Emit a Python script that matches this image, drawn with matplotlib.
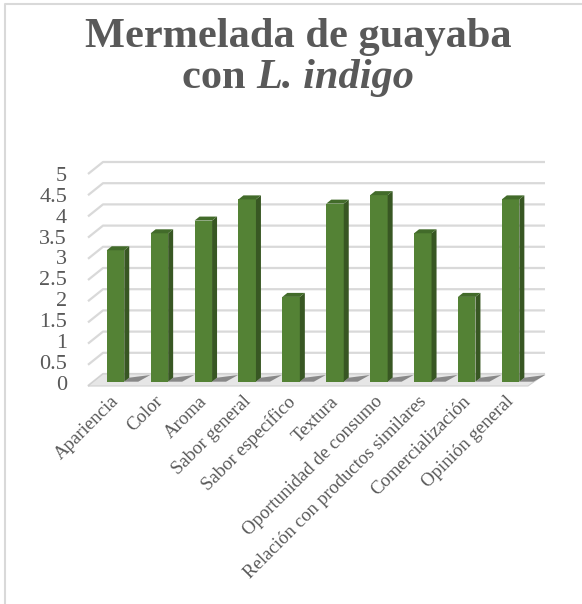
import matplotlib
matplotlib.use("Agg")
import matplotlib.pyplot as plt
from matplotlib.patches import Polygon

categories = ["Apariencia", "Color", "Aroma", "Sabor general", "Sabor específico",
              "Textura", "Oportunidad de consumo", "Relación con productos similares",
              "Comercialización", "Opinión general"]
values = [3.1, 3.5, 3.8, 4.3, 2.0, 4.2, 4.4, 3.5, 2.0, 4.3]
yticks = [0, 0.5, 1, 1.5, 2, 2.5, 3, 3.5, 4, 4.5, 5]
ytick_labels = ["0", "0.5", "1", "1.5", "2", "2.5", "3", "3.5", "4", "4.5", "5"]

W, H = 582, 604
fig = plt.figure(figsize=(W / 100, H / 100), dpi=100)
fig.patch.set_facecolor("white")

# axes laid out in pixel space: x = bar index, y = value
px_x0, px_x1, px_y0, px_y1 = 80, 560, 150, 400
ax = fig.add_axes([px_x0 / W, 1 - px_y1 / H, (px_x1 - px_x0) / W, (px_y1 - px_y0) / H])
ax.set_facecolor("none")
ax.axis("off")

x_step = 43.9           # px per category
y_step = 42.4           # px per unit
front_px = 381.7        # pixel y of bar bottoms
x_first = 115.5         # pixel x of first bar center
ax.set_xlim((px_x0 - x_first) / x_step, (px_x1 - x_first) / x_step)
ax.set_ylim((front_px - px_y1) / y_step, (front_px - px_y0) / y_step)

def dx(p):
    return p / x_step

def dy(p):
    return p / y_step

grid_c = "#d9d9d9"
text_c = "#595959"
serif = ["Liberation Serif", "DejaVu Serif"]

# floor and back-wall gridlines
floor_front = dy(-4.3)
floor_back = dy(7.7)
left_front = dx(88 - x_first)
left_back = dx(103 - x_first)
right_back = dx(545 - x_first)
right_front = dx(528 - x_first)
ax.add_patch(Polygon([(left_front, floor_front), (right_front, floor_front),
                      (right_back, floor_back), (left_back, floor_back)],
                     closed=True, facecolor="#e6e6e6", edgecolor="#d0d0d0", lw=0.8, zorder=1))
for v in yticks:
    ax.plot([left_front, left_back, right_back],
            [v + floor_front, v + floor_back, v + floor_back],
            color=grid_c, lw=1.6, zorder=0.5, solid_capstyle="butt")

# 3D-looking bars
bw = dx(17.5)
side = dx(5)
top = dy(4)
for i, v in enumerate(values):
    x0 = i - bw / 2
    # shadow on the floor
    ax.add_patch(Polygon([(x0 + bw, 0), (x0 + bw + dx(14), 0),
                          (x0 + bw + dx(26), floor_back - dy(1)),
                          (x0 + bw + side, top)],
                         closed=True, facecolor="#4a4a4a", edgecolor="none", alpha=0.6, zorder=1.5))
    ax.bar(i, v, width=bw, bottom=0, color="#548235", edgecolor="none", zorder=3)
    ax.add_patch(Polygon([(x0 + bw, 0), (x0 + bw + side, top),
                          (x0 + bw + side, v + top), (x0 + bw, v)],
                         closed=True, facecolor="#385723", edgecolor="none", zorder=3))
    ax.add_patch(Polygon([(x0, v), (x0 + bw, v), (x0 + bw + side, v + top),
                          (x0 + side, v + top)],
                         closed=True, facecolor="#426b2a", edgecolor="none", zorder=3))

# y labels
for v, lab in zip(yticks, ytick_labels):
    ax.text(dx(67 - x_first), v * 41.7 / y_step + dy(front_px - 385), lab,
            ha="right", va="center", fontsize=16, color=text_c, family=serif)

# x labels
for i, lab in enumerate(categories):
    ax.text(i - dx(5), dy(front_px - 393), lab, rotation=45, rotation_mode="anchor",
            ha="right", va="top", fontsize=13.5, color=text_c, family=serif)

# chart border (left and top)
fig.add_artist(plt.Line2D([5 / W, 5 / W, 1], [0, 1 - 4 / H, 1 - 4 / H],
                          color=grid_c, lw=1.5, transform=fig.transFigure))

# title
cx = 298 / W
fig.text(cx, 1 - 47 / H, "Mermelada de guayaba", ha="center", va="baseline",
         fontsize=30.5, fontweight="bold", color=text_c, family=serif)
renderer = fig.canvas.get_renderer()
t1 = fig.text(0, 1 - 88 / H, "con ", ha="left", va="baseline",
              fontsize=30.5, fontweight="bold", color=text_c, family=serif)
t2 = fig.text(0, 1 - 88 / H, "L. indigo", ha="left", va="baseline",
              fontsize=30.5, fontweight="bold", style="italic", color=text_c, family=serif)
w1 = t1.get_window_extent(renderer).width / W
w2 = t2.get_window_extent(renderer).width / W
t1.set_x(cx - (w1 + w2) / 2)
t2.set_x(cx - (w1 + w2) / 2 + w1)

fig.savefig("out.png", dpi=100)
